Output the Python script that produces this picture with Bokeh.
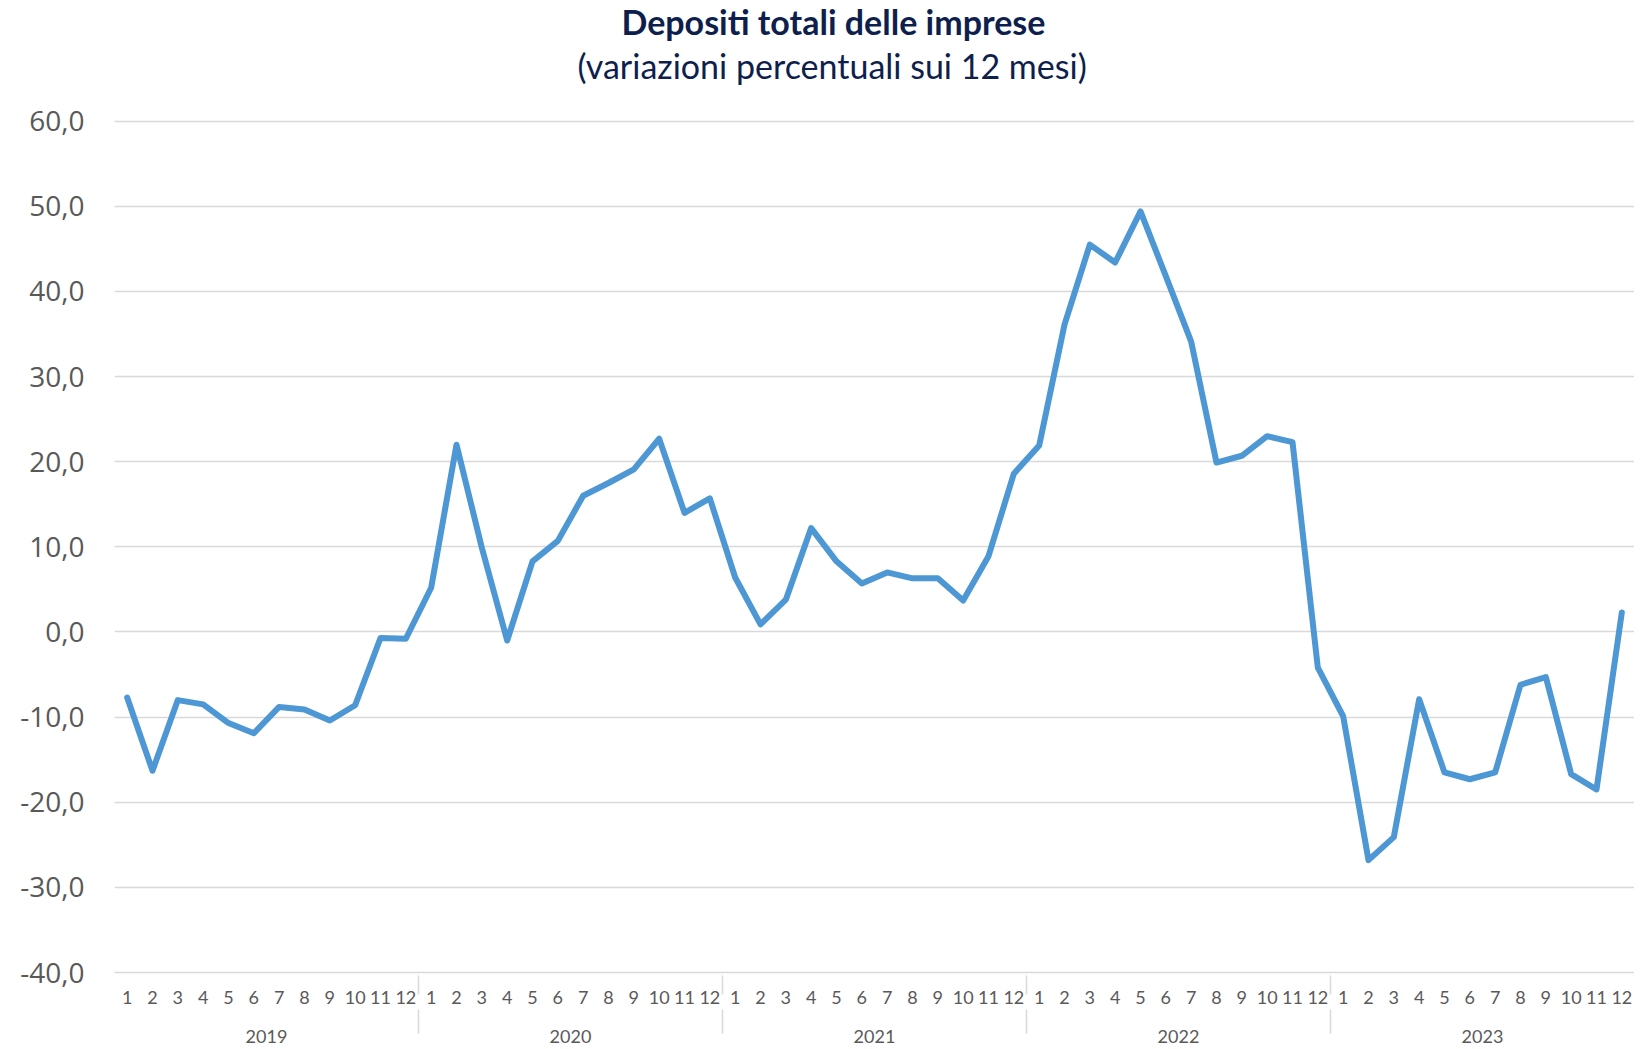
from bokeh.plotting import figure
from bokeh.models import FactorRange, FixedTicker, Title, Range1d, CategoricalAxis
from bokeh.embed import file_html
from bokeh.resources import INLINE

years = ["2019", "2020", "2021", "2022", "2023"]
months = [str(m) for m in range(1, 13)]

values_2019 = [-7.7, -16.3, -8.0, -8.5, -10.7, -11.9, -8.8, -9.1, -10.4, -8.6, -0.7, -0.8]
values_2020 = [5.2, 22.0, 9.9, -1.0, 8.3, 10.7, 16.0, 17.5, 19.1, 22.7, 14.0, 15.7]
values_2021 = [6.4, 0.9, 3.8, 12.2, 8.3, 5.7, 7.0, 6.3, 6.3, 3.7, 8.9, 18.6]
values_2022 = [21.9, 36.1, 45.5, 43.4, 49.4, 41.8, 34.1, 19.9, 20.7, 23.0, 22.3, -4.2]
values_2023 = [-9.9, -26.8, -24.1, -7.9, -16.5, -17.3, -16.5, -6.2, -5.3, -16.7, -18.5, 2.3]

y_ticks = [-40, -30, -20, -10, 0, 10, 20, 30, 40, 50, 60]
y_tick_labels = ["-40,0", "-30,0", "-20,0", "-10,0", "0,0", "10,0", "20,0", "30,0", "40,0", "50,0", "60,0"]

title_text = "Depositi totali delle imprese"
subtitle_text = "(variazioni percentuali sui 12 mesi)"

factors = [(y, m) for y in years for m in months]
values = values_2019 + values_2020 + values_2021 + values_2022 + values_2023

GRID = "#d9d9d9"
LABEL = "#595959"
NAVY = "#0e1f4d"

W, H = 1634, 1045
FRAME_LEFT = 114
p = figure(
    width=W, height=H,
    x_range=FactorRange(*factors, factor_padding=0, group_padding=0, range_padding=0),
    y_range=Range1d(-40, 60.2),
    output_backend="svg", toolbar_location=None,
    min_border_left=FRAME_LEFT, min_border_right=0, min_border_top=0, min_border_bottom=0,
)

p.title.text = title_text
p.title.align = "left"
p.title.offset = 507
p.title.vertical_align = "top"
p.title.text_font = "Lato"
p.title.text_font_style = "bold"
p.title.text_font_size = "34px"
p.title.text_color = NAVY
p.title.standoff = 0

# spacer first (nearest the frame), then subtitle
spacer = Title(text=" ", text_font_size="10px", standoff=18)
p.add_layout(spacer, "above")
sub = Title(text=subtitle_text, align="left", offset=463, vertical_align="top",
            text_font="Lato", text_font_style="normal", text_font_size="34px",
            text_color=NAVY, standoff=2)
p.add_layout(sub, "above")

p.outline_line_color = None
p.background_fill_color = "white"
p.border_fill_color = "white"

# y axis
p.yaxis.ticker = FixedTicker(ticks=y_ticks)
p.yaxis.major_label_overrides = {t: l for t, l in zip(y_ticks, y_tick_labels)}
p.yaxis.axis_line_color = None
p.yaxis.major_tick_line_color = None
p.yaxis.minor_tick_line_color = None
p.yaxis.major_label_standoff = 24
p.yaxis.major_label_text_font = "Open Sans"
p.yaxis.major_label_text_font_size = "28px"
p.yaxis.major_label_text_color = LABEL

p.ygrid.grid_line_color = GRID
p.ygrid.grid_line_width = 1.5
p.xgrid.grid_line_color = None

# x axis 1: month labels (year level hidden)
xa = p.xaxis[0]
xa.axis_line_color = GRID
xa.axis_line_width = 1.5
xa.major_tick_line_color = None
xa.minor_tick_line_color = None
xa.major_label_text_font = "Lato"
xa.major_label_text_font_size = "18px"
xa.major_label_text_color = LABEL
xa.major_label_standoff = 12
xa.group_text_font_size = "1px"
xa.group_text_color = None
xa.separator_line_color = GRID
xa.separator_line_width = 1.5

# x axis 2: year labels (month level hidden)
xb = CategoricalAxis()
xb.axis_line_color = None
xb.major_tick_line_color = None
xb.minor_tick_line_color = None
xb.major_label_text_font_size = "1px"
xb.major_label_text_color = None
xb.major_label_standoff = 17
xb.group_text_font = "Lato"
xb.group_text_font_size = "18px"
xb.group_text_font_style = "normal"
xb.group_text_color = LABEL
xb.separator_line_color = GRID
xb.separator_line_width = 1.5
p.add_layout(xb, "below")

p.line(x=factors, y=values, line_color="#4d97d4", line_width=6, line_join="round", line_cap="round")

open("out.html", "w").write(file_html(p, INLINE))
